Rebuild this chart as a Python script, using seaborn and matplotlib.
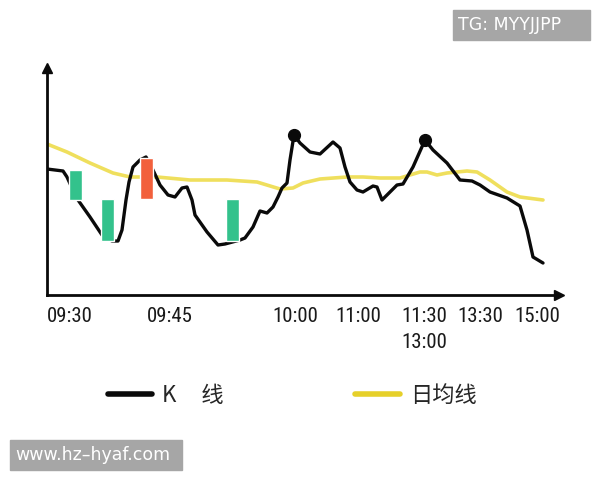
import matplotlib
matplotlib.use('Agg')
import matplotlib.pyplot as plt
import seaborn as sns
from matplotlib.lines import Line2D
from matplotlib.patches import Rectangle
from matplotlib import font_manager as fm

# intraday K line (black) -- x: position along the session axis, y: price level
k_x = [0, 16, 20, 25, 31, 43, 55, 65, 71, 75, 79, 82, 86, 93, 99, 106, 113, 121, 128, 135,
       140, 145, 148, 160, 171, 178, 193, 198, 206, 213, 220, 226, 231, 235, 240, 243, 247, 253, 263, 273,
       286, 293, 298, 303, 310, 316, 326, 330, 335, 343, 350, 356, 366, 378, 386, 400, 413, 425, 433, 443,
       460, 473, 480, 486, 496]
k_y = [126, 124, 118, 107, 95, 78, 60, 54, 54, 65, 95, 113, 128, 135, 138, 125, 110, 100, 98, 107,
       108, 95, 80, 63, 50, 51, 55, 57, 68, 84, 82, 88, 98, 107, 112, 135, 160, 152, 143, 141,
       153, 147, 128, 113, 105, 103, 109, 108, 95, 103, 110, 111, 128, 155, 145, 132, 115, 114, 110, 103,
       97, 89, 65, 38, 32]

# daily average line (yellow)
avg_x = [0, 20, 43, 66, 83, 110, 143, 180, 210, 233, 246, 256, 273, 300, 316, 333, 353, 373, 380, 390,
         400, 420, 430, 443, 460, 473, 496]
avg_y = [151, 143, 132, 122, 118, 118, 115, 115, 113, 106, 107, 112, 116, 118, 118, 117, 117, 123, 123, 120,
         122, 124, 123, 115, 103, 98, 95]

# peaks marked with dots
peak_x = [247, 378]
peak_y = [160, 155]

# candles: position, low, high, colour
candle_x = [28, 60, 99.5, 185.5]
candle_lo = [95, 54, 96, 54]
candle_hi = [125, 96, 137, 96]
candle_col = ['#33c28c', '#33c28c', '#f2603c', '#33c28c']

tick_pos = [0, 123, 248, 311, 377, 433, 490]
tick_lab = ['09:30', '09:45', '10:00', '11:00', '11:30\n13:00', '13:30', '15:00']

black = '#0a0a0a'
yellow = '#ecd834'

sns.set_style("white")
plt.rcParams['font.family'] = ['Noto Sans CJK SC', 'DejaVu Sans']

# narrow face for the time labels, if there is one
names = {f.name for f in fm.fontManager.ttflist}
narrow = [n for n in ['Liberation Sans Narrow', 'Roboto Condensed', 'Open Sans Condensed'] if n in names]
cond = [f for f in fm.fontManager.ttflist if f.name == 'DejaVu Sans' and f.stretch == 'condensed']
if narrow:
    tick_font = dict(family=narrow[0], fontsize=15)
elif cond:
    tick_font = dict(family='DejaVu Sans', stretch='condensed', fontsize=15)
else:
    tick_font = dict(family='DejaVu Sans', fontsize=12.5)

fig = plt.figure(figsize=(6, 4.8), dpi=100)
ax = fig.add_axes([47/600, 185/480, 512/600, 227/480])

sns.lineplot(x=avg_x, y=avg_y, ax=ax, color=yellow, linewidth=2.6, alpha=0.8, zorder=2)
sns.lineplot(x=k_x, y=k_y, ax=ax, color=black, linewidth=2.4, zorder=3)
ax.bar(candle_x, [h - l for h, l in zip(candle_hi, candle_lo)], bottom=candle_lo,
       width=13, color=candle_col, zorder=4)
ax.plot(peak_x, peak_y, 'o', color=black, markersize=8.5, zorder=5)

ax.set_xlim(0, 512)
ax.set_ylim(0, 227)
for s in ['top', 'right']:
    ax.spines[s].set_visible(False)
for s in ['left', 'bottom']:
    ax.spines[s].set_color(black)
    ax.spines[s].set_linewidth(2)
ax.plot(1, 0, '>', color=black, markersize=7, transform=ax.transAxes, clip_on=False)
ax.plot(0, 1, '^', color=black, markersize=7, transform=ax.transAxes, clip_on=False)

ax.set_yticks([])
ax.set_xticks(tick_pos)
ax.set_xticklabels(tick_lab, color='#1a1a1a', **tick_font)
ax.tick_params(axis='x', direction='in', length=6, width=2, color=black, pad=9)
for t in ax.get_xticklabels():
    t.set_linespacing(1.45)
ax.get_xticklabels()[0].set_horizontalalignment('left')
ax.xaxis.get_major_ticks()[-1].tick1line.set_visible(False)

handles = [Line2D([], [], color=black, linewidth=4), Line2D([], [], color='#e6d02a', linewidth=4)]
fig.legend(handles, ['K     线', '日均线'], loc='center left', bbox_to_anchor=(108/600, 1 - 395/480),
           ncol=2, frameon=False, fontsize=16, handlelength=2.0, handletextpad=0.45,
           columnspacing=5.9, borderpad=0, borderaxespad=0)

# watermarks
fig.add_artist(Rectangle((453/600, 1 - 40/480), 137/600, 30/480, transform=fig.transFigure,
                         color='#a6a6a6', zorder=0))
fig.text(458/600, 1 - 25/480, 'TG: MYYJJPP', color='white', fontsize=12.5, va='center', ha='left',
         family=['DejaVu Sans'])
fig.add_artist(Rectangle((10/600, 1 - 470/480), 172/600, 30/480, transform=fig.transFigure,
                         color='#a6a6a6', zorder=0))
fig.text(15/600, 1 - 455/480, 'www.hz\u2013hyaf.com', color='white', fontsize=12.5, va='center', ha='left',
         family=['DejaVu Sans'])

fig.savefig('out.png', dpi=100)
